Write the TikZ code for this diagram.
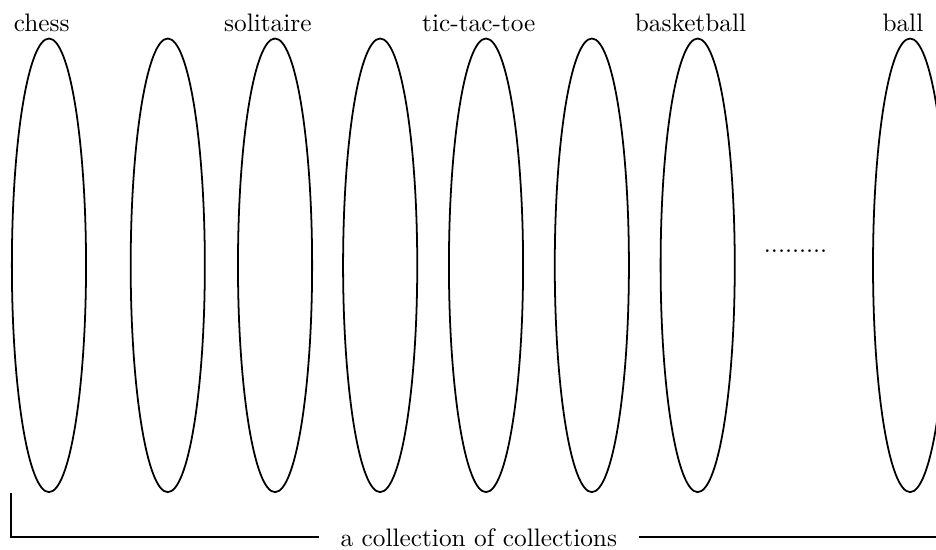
\documentclass[tikz,border=0pt]{standalone}
\usepackage{tikz}
\usetikzlibrary{positioning,shapes.geometric}
\tikzset{
  coll/.style={ellipse,draw,line width=0.7pt,minimum width=1.03cm,
    minimum height=6.3cm,inner sep=0pt},
  gamelab/.style={inner sep=0pt,text depth=0pt,xshift=-0.1cm},
  brack/.style={line width=0.6pt}
}
\begin{document}
\begin{tikzpicture}
  \useasboundingbox (0,0) rectangle (13,7.625);
  % the collections
  \node[coll] (c1) at (0.68,3.94) {};
  \node[coll] (c2) at (2.33,3.94) {};
  \node[coll] (c3) at (3.82,3.94) {};
  \node[coll] (c4) at (5.28,3.94) {};
  \node[coll] (c5) at (6.75,3.94) {};
  \node[coll] (c6) at (8.22,3.94) {};
  \node[coll] (c7) at (9.69,3.94) {};
  \node[coll] (c8) at (12.64,3.94) {};
  % their names
  \node[gamelab,above=0.08cm of c1] (lchess) {chess};
  \node[gamelab,above=0.08cm of c3] (lsoli) {solitaire};
  \node[gamelab,above=0.08cm of c5] (ltic) {tic-tac-toe};
  \node[gamelab,above=0.08cm of c7] (lbask) {basketball};
  \node[gamelab,above=0.08cm of c8] (lball) {ball};
  \node[inner sep=0pt,anchor=base] (more) at (11.05,4.12) {.........};
  % the bracket below
  \node[inner ysep=0pt,inner xsep=0.3cm,text depth=0pt,anchor=base] (all) at (6.65,0.04) {a collection of collections};
  \coordinate (rend) at (13,0 |- all.west);
  \draw[brack] (c1.west |- c1.south) |- (all.west);
  \draw[brack] (all.east) -- (rend);
\end{tikzpicture}
\end{document}
